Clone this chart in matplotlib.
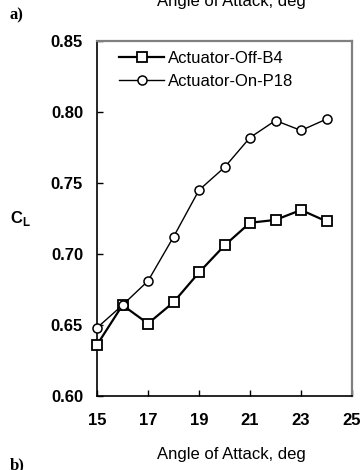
import matplotlib
matplotlib.use("Agg")
import matplotlib.pyplot as plt

plt.rcParams['font.family'] = ['Liberation Sans', 'DejaVu Sans']

aoa = [15, 16, 17, 18, 19, 20, 21, 22, 23, 24]
cl_off = [0.636, 0.664, 0.651, 0.666, 0.687, 0.706, 0.722, 0.724, 0.731, 0.723]
cl_on = [0.648, 0.664, 0.681, 0.712, 0.745, 0.761, 0.782, 0.794, 0.787, 0.795]
xticks = [15, 17, 19, 21, 23, 25]
yticks = [0.60, 0.65, 0.70, 0.75, 0.80, 0.85]

W, H = 362, 470
fig = plt.figure(figsize=(W / 100, H / 100), dpi=100)
ax = fig.add_axes([97 / W, 1 - 396 / H, 255 / W, 355 / H])

ax.plot(aoa, cl_off, color='black', lw=1.6, marker='s', ms=6.5,
        mfc='white', mec='black', mew=1.3, label='Actuator-Off-B4', clip_on=False, zorder=3)
ax.plot(aoa, cl_on, color='black', lw=1.0, marker='o', ms=6.5,
        mfc='white', mec='black', mew=1.1, label='Actuator-On-P18', clip_on=False, zorder=4)

ax.set_xlim(15, 25)
ax.set_ylim(0.60, 0.85)
ax.set_xticks(xticks)
ax.set_yticks(yticks)
ax.set_xticklabels([str(t) for t in xticks], fontsize=12, fontweight='bold')
ax.set_yticklabels([f"{t:.2f}" for t in yticks], fontsize=12, fontweight='bold')
ax.tick_params(direction='in', length=4, width=1)
ax.tick_params(axis='y', pad=10)
ax.tick_params(axis='x', pad=12)
for s in ['left', 'bottom']:
    ax.spines[s].set_color('black')
    ax.spines[s].set_linewidth(1.2)
for s in ['top', 'right']:
    ax.spines[s].set_color('#808080')
    ax.spines[s].set_linewidth(1.6)

leg = ax.legend(loc='upper left', frameon=False, fontsize=12, handlelength=2.7,
                handletextpad=0.25, labelspacing=0.45, borderaxespad=0.0, borderpad=0.0,
                bbox_to_anchor=((119 - 97) / 255, 1 - (51 - 41) / 355))

fig.text(10 / W, 1 - 219 / H, r'C$_\mathregular{L}$', fontsize=12, fontweight='bold',
         ha='left', va='center')
fig.text(231 / W, 1 - 455 / H, 'Angle of Attack, deg', fontsize=12, ha='center', va='center')
fig.text(231 / W, 1 - 6 / H, 'Angle of Attack, deg', fontsize=12, ha='center', va='baseline')
fig.text(10 / W, 1 - 15 / H, 'a)', fontsize=12, fontweight='bold', family='Liberation Serif',
         ha='left', va='center')
fig.text(10 / W, 1 - 465 / H, 'b)', fontsize=12, fontweight='bold', family='Liberation Serif',
         ha='left', va='center')

fig.savefig('out.png', dpi=100)
